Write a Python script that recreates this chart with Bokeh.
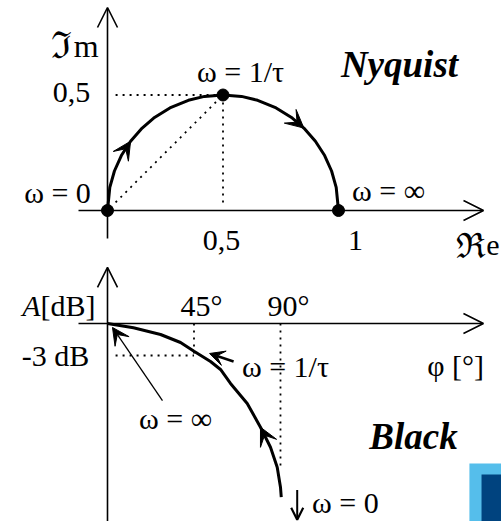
from bokeh.plotting import figure
from bokeh.layouts import column
from bokeh.models import Arrow, OpenHead, VeeHead, Label, Range1d
from bokeh.core.properties import value
from bokeh.embed import file_html
from bokeh.resources import INLINE

# Nyquist locus of H(jw) = jwT / (1 + jwT): real and imaginary parts
nyq_re = [0.0, 0.01, 0.03, 0.06, 0.10, 0.15, 0.20, 0.27, 0.35, 0.42, 0.50,
          0.58, 0.65, 0.73, 0.80, 0.85, 0.90, 0.94, 0.97, 0.99, 1.0]
nyq_im = [0.0, 0.10, 0.171, 0.238, 0.30, 0.357, 0.40, 0.444, 0.477, 0.494, 0.50,
          0.494, 0.477, 0.444, 0.40, 0.357, 0.30, 0.238, 0.171, 0.10, 0.0]
# marked frequencies w = 0, w = 1/T, w = inf
nyq_mark_re = [0.0, 0.5, 1.0]
nyq_mark_im = [0.0, 0.5, 0.0]
nyq_tick_labels = ["0,5", "1"]

# Black diagram: phase (deg) vs. gain (dB)
blk_phase = [0.0, 13.5, 27.6, 38.0, 45.0, 53.6, 58.8, 64.0, 72.7, 79.6, 84.8, 88.3, 90.0, 90.4]
blk_gain = [0.0, -0.4, -1.03, -1.78, -2.6, -3.56, -4.31, -5.62, -7.5, -9.72, -11.6, -13.47, -15.34, -16.28]
blk_phase_ticks = [45, 90]
blk_phase_labels = ["45°", "90°"]
blk_gain_level = -3

SERIF = "Liberation Serif"
FS = "30px"
TITLE_FS = "37px"


def base(h, xr, yr):
    f = figure(width=501, height=h, x_range=Range1d(*xr), y_range=Range1d(*yr),
               output_backend="svg", toolbar_location=None,
               x_axis_location=None, y_axis_location=None, min_border=0)
    f.grid.visible = False
    f.outline_line_color = None
    f.background_fill_color = "white"
    f.border_fill_color = "white"
    return f


def label(f, x, y, text, size=FS, style="normal", align="center", font=SERIF):
    f.add_layout(Label(x=x, y=y, text=text, text_font=font, text_font_size=size,
                       text_font_style=style, text_align=align,
                       text_baseline="middle", text_color="black"))


def glyph_text(f, x, y, text, size=FS, font=SERIF):
    # plain text glyph, left aligned on the alphabetic baseline
    f.text(x=[x], y=[y], text=[text], text_font=value(font), text_font_size=value(size),
           text_align="left", text_baseline="alphabetic", text_color="black")


def axis_arrow(f, x0, y0, x1, y1):
    f.add_layout(Arrow(end=OpenHead(size=20, line_width=1.6, line_color="black"),
                       x_start=x0, y_start=y0, x_end=x1, y_end=y1,
                       line_width=1.6, line_color="black"))


def vee(f, x0, y0, x1, y1, size=18, shaft=0.0):
    f.add_layout(Arrow(end=VeeHead(size=size, fill_color="black", line_color="black", line_width=1),
                       x_start=x0, y_start=y0, x_end=x1, y_end=y1,
                       line_width=shaft if shaft else 1,
                       line_alpha=1 if shaft else 0, line_color="black"))


# ---------------- Nyquist plane (0..266 px) ----------------
top = base(266, (-0.4632, 1.7056), (-0.2424, 0.9091))
axis_arrow(top, -0.1255, 0, 1.6277, 0)
axis_arrow(top, 0, -0.1212, 0, 0.8788)

dot = dict(line_color="black", line_width=1.8, line_dash="2 5")
top.line([0.035, nyq_mark_re[1]], [nyq_mark_im[1], nyq_mark_im[1]], **dot)
top.line([nyq_mark_re[1], nyq_mark_re[1]], [0.035, nyq_mark_im[1]], **dot)
top.line([0.035, nyq_mark_re[1]], [0.035, nyq_mark_im[1]], **dot)

top.line(nyq_re, nyq_im, line_color="black", line_width=3)
top.scatter(nyq_mark_re, nyq_mark_im, size=12, color="black")
vee(top, nyq_re[3], nyq_im[3], nyq_re[4], nyq_im[4])
vee(top, nyq_re[14], nyq_im[14], nyq_re[15], nyq_im[15])

# axis names: fraktur capitals from DejaVu, small letters in the serif face
glyph_text(top, -0.2425, 0.714, "ℑ", size="37px", font="DejaVu Serif")
glyph_text(top, -0.146, 0.714, "m", size="32px")
glyph_text(top, 1.5065, -0.1515, "ℜ", size="35px", font="DejaVu Serif")
glyph_text(top, 1.640, -0.1515, "e")

label(top, -0.1558, 0.5108, nyq_tick_labels[0])
label(top, -0.2165, 0.0779, "ω = 0")
label(top, 0.4935, -0.1299, nyq_tick_labels[0])
label(top, 1.0736, -0.1299, nyq_tick_labels[1])
label(top, 0.5758, 0.6017, "ω = 1/τ")
label(top, 1.2165, 0.0866, "ω = ∞")
label(top, 1.264, 0.632, "Nyquist", size=TITLE_FS, style="bold italic")

# ---------------- Black plane (266..521 px) ----------------
bot = base(255, (-55.67, 204.99), (-18.556, 5.342))
axis_arrow(bot, -15.09, 0, 195.6, 0)
axis_arrow(bot, 0, -18.6, 0, 5.25)

bot.line([4.2, blk_phase_ticks[0]], [blk_gain_level, blk_gain_level], **dot)
bot.line([blk_phase_ticks[0], blk_phase_ticks[0]], [0, blk_gain_level], **dot)
bot.line([blk_phase_ticks[1], blk_phase_ticks[1]], [0, -13.3], **dot)

bot.line(blk_phase, blk_gain, line_color="black", line_width=3)
vee(bot, blk_phase[10], blk_gain[10], blk_phase[9], blk_gain[9])
vee(bot, 65.6, -3.56, 53.1, -2.81, size=15, shaft=2.5)
vee(bot, 28.6, -7.22, 2.6, -0.37, size=17, shaft=1.3)
bot.add_layout(Arrow(end=OpenHead(size=12, line_width=2.2, line_color="black"),
                     x_start=98.7, y_start=-15.6, x_end=98.7, y_end=-18.4,
                     line_width=2, line_color="black"))

# corner badge
bot.quad(left=188.3, right=210, top=-13.12, bottom=-20, fill_color="#55BEEB", line_color=None)
bot.quad(left=194.6, right=210, top=-14.15, bottom=-20, fill_color="#00437F", line_color=None)

label(bot, -34.86, 1.687, "A", style="italic", align="right")
label(bot, -34.86, 1.687, "[dB]", align="left")
label(bot, 48.9, 1.687, blk_phase_labels[0])
label(bot, 94.2, 1.687, blk_phase_labels[1])
label(bot, -27.05, -3.0, f"{blk_gain_level} dB")
label(bot, 92.6, -4.03, "ω = 1/τ")
label(bot, 181.1, -3.94, "φ [°]")
label(bot, 35.4, -8.9, "ω = ∞")
label(bot, 123.8, -16.78, "ω = 0")
label(bot, 159.2, -10.59, "Black", size=TITLE_FS, style="bold italic")

page = column(top, bot, spacing=0)
open("out.html", "w").write(file_html(page, INLINE))
